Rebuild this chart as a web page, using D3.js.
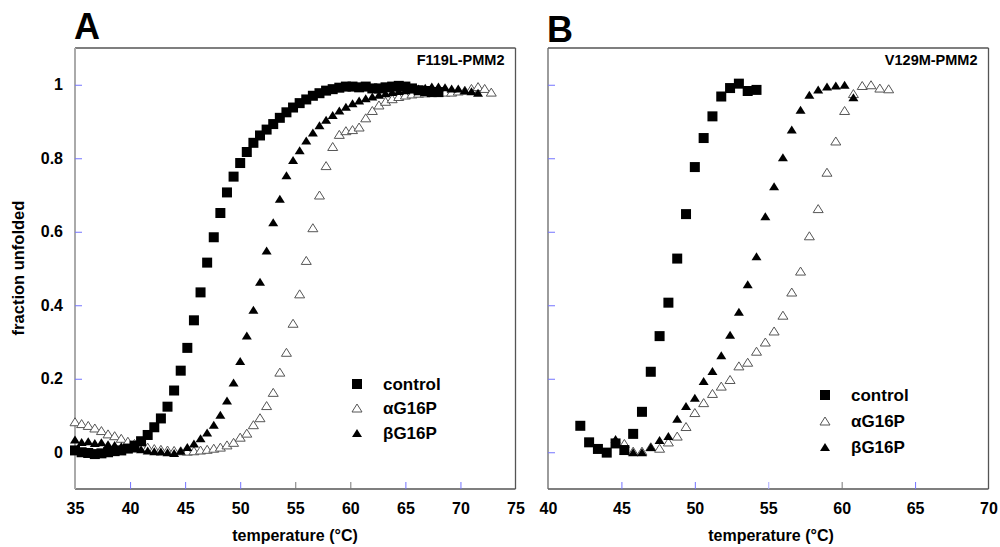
<!DOCTYPE html>
<html><head><meta charset="utf-8">
<script src="https://cdn.jsdelivr.net/npm/d3@7"></script>
<style>
body{margin:0;background:#fff}
svg{display:block}
text{font-family:"Liberation Sans",Arial,sans-serif;font-weight:bold;fill:#000}
</style>
</head><body>
<svg id="chart" width="1000" height="547"></svg>
<script>
// ---------- DATA ----------
const tempsA = [35.0,35.6,36.2,36.8,37.4,38.0,38.6,39.2,39.8,40.4,41.0,41.6,42.2,42.8,43.4,44.0,44.6,45.2,45.8,46.4,
  47.0,47.6,48.2,48.8,49.4,50.0,50.6,51.2,51.8,52.4,53.0,53.6,54.2,54.8,55.4,56.0,56.6,57.2,57.8,58.4,
  59.0,59.6,60.2,60.8,61.4,62.0,62.6,63.2,63.8,64.4,65.0,65.6,66.2,66.8,67.4,68.0,68.6,69.2,69.8,70.4,
  71.0,71.6,72.2,72.8];
const controlA = [0.005,0.0,-0.002,-0.005,-0.003,0.0,0.003,0.005,0.01,0.018,0.030,0.047,0.068,0.092,0.124,0.168,0.222,0.284,0.359,0.435,
  0.516,0.585,0.651,0.707,0.750,0.787,0.817,0.842,0.862,0.878,0.893,0.910,0.925,0.938,0.950,0.960,0.970,0.977,0.984,0.988,
  0.992,0.995,0.995,0.993,0.995,0.990,0.990,0.993,0.995,0.997,0.995,0.990,0.985,0.983,0.980,0.980,null,null,null,null,
  null,null,null,null];
const alphaA = [0.083,0.078,0.073,0.066,0.059,0.050,0.045,0.038,0.030,0.024,0.018,0.014,0.010,0.008,0.006,0.005,0.004,0.003,0.004,0.006,
  0.008,0.011,0.014,0.020,0.027,0.041,0.052,0.075,0.094,0.127,0.163,0.218,0.272,0.351,0.431,0.522,0.611,0.700,0.780,0.832,
  0.865,0.875,0.878,0.885,0.910,0.930,0.945,0.955,0.962,0.968,0.972,0.975,0.977,0.978,0.980,0.980,0.980,0.980,0.983,0.985,
  0.990,0.995,0.990,0.980];
const betaA = [0.035,0.028,0.030,0.025,0.027,0.022,0.020,0.016,0.012,0.010,0.008,0.005,0.003,0.002,0.0,-0.002,0.004,0.014,0.024,0.038,
  0.054,0.075,0.102,0.141,0.190,0.248,0.318,0.388,0.464,0.549,0.626,0.690,0.754,0.795,0.822,0.848,0.870,0.890,0.905,0.918,
  0.930,0.940,0.950,0.957,0.963,0.968,0.973,0.977,0.980,0.983,0.985,0.988,0.990,0.992,0.995,0.995,0.993,0.990,0.990,0.985,
  0.982,0.978,null,null];

const tempsB = [42.2,42.8,43.4,44.0,44.6,45.2,45.8,46.4,47.0,47.6,48.2,48.8,49.4,50.0,50.6,51.2,51.8,52.4,53.0,53.6,
  54.2,54.8,55.4,56.0,56.6,57.2,57.8,58.4,59.0,59.6,60.2,60.8,61.4,62.0,62.6,63.2];
const controlB = [0.072,0.027,0.009,-0.001,0.024,0.006,0.050,0.110,0.219,0.316,0.407,0.527,0.648,0.776,0.855,0.914,0.968,0.991,1.003,0.983,
  0.986,null,null,null,null,null,null,null,null,null,null,null,null,null,null,null];
const alphaB = [null,null,null,null,null,0.024,0.003,0.003,0.015,0.011,0.028,0.044,0.070,0.108,0.135,0.160,0.180,0.198,0.235,0.245,
  0.275,0.300,0.330,0.373,0.436,0.493,0.589,0.663,0.762,0.847,0.930,0.976,0.998,1.000,0.991,0.989];
const betaB = [null,null,null,null,0.036,0.005,0.0,0.0,0.014,0.033,0.044,0.091,0.126,0.148,0.194,0.221,0.264,0.320,0.382,0.457,
  0.533,0.642,0.724,0.803,0.878,0.932,0.973,0.987,0.995,0.998,1.000,0.966,null,null,null,null];

const xTicksA = [35,40,45,50,55,60,65,70,75];
const xTicksB = [40,45,50,55,60,65,70];
const yTicks = [0,0.2,0.4,0.6,0.8,1];
const seriesNames = ["control","\u03b1G16P","\u03b2G16P"];
const panelTitles = ["F119L-PMM2","V129M-PMM2"];
const panelLetters = ["A","B"];
const xLabel = "temperature (\u00b0C)";
const yLabel = "fraction unfolded";

// ---------- DRAW ----------
const svg = d3.select("#chart");
const BLUE = "#7474ff", GREY = "#777";

const panels = [
  {x0:75, x1:515.5, dom:[35,75], ticks:xTicksA, temps:tempsA, c:controlA, a:alphaA, b:betaA,
   tickCol:{40:BLUE,45:BLUE,50:BLUE,55:GREY,60:GREY,65:BLUE,70:BLUE}, yLabels:true, leftCol:"#aaa", leftW:2,
   title:panelTitles[0], letter:panelLetters[0], letterY:38.5, legX:357, legY:[384,408,433], labX:295},
  {x0:548, x1:988.5, dom:[40,70], ticks:xTicksB, temps:tempsB, c:controlB, a:alphaB, b:betaB,
   tickCol:{45:BLUE,50:BLUE,55:"#a8a8ff",60:GREY,65:BLUE}, yLabels:false, leftCol:"#666", leftW:1.3,
   title:panelTitles[1], letter:panelLetters[1], letterY:41.5, legX:825, legY:[395,421,447], labX:771}
];
const yTop = 48, yBot = 489;

const triPath = "M0,-4L5,4L-5,4Z";

panels.forEach(p => {
  const x = d3.scaleLinear().domain(p.dom).range([p.x0, p.x1]);
  const y = d3.scaleLinear().domain([-0.1, 1.1]).range([yBot, yTop]);
  const g = svg.append("g");

  // frame
  g.append("line").attr("x1",p.x0).attr("x2",p.x1).attr("y1",yTop).attr("y2",yTop).attr("stroke","#555").attr("stroke-width",1.3);
  g.append("line").attr("x1",p.x1).attr("x2",p.x1).attr("y1",yTop).attr("y2",yBot).attr("stroke","#555").attr("stroke-width",1.3);
  g.append("line").attr("x1",p.x0).attr("x2",p.x1).attr("y1",yBot).attr("y2",yBot).attr("stroke","#555").attr("stroke-width",1.3);
  g.append("line").attr("x1",p.x0).attr("x2",p.x0).attr("y1",yTop).attr("y2",yBot).attr("stroke",p.leftCol).attr("stroke-width",p.leftW);

  // x axis
  const xa = g.append("g").attr("transform",`translate(0,${yBot})`)
    .call(d3.axisBottom(x).tickValues(p.ticks).tickSizeInner(-7).tickSizeOuter(0).tickPadding(14).tickFormat(d3.format("d")));
  xa.select(".domain").remove();
  xa.selectAll(".tick line").attr("stroke", d => p.tickCol[d] || "none").attr("stroke-width",1);
  xa.selectAll(".tick text").attr("font-size",16).attr("font-family","Liberation Sans, Arial, sans-serif").attr("font-weight","bold");

  // y axis
  const ya = g.append("g").attr("transform",`translate(${p.x0},0)`)
    .call(d3.axisLeft(y).tickValues(yTicks).tickSizeInner(-7).tickSizeOuter(0).tickPadding(12)
      .tickFormat(d => d === 0 ? "0" : d === 1 ? "1" : d3.format(".1f")(d)));
  ya.select(".domain").remove();
  ya.selectAll(".tick line").attr("stroke",BLUE).attr("stroke-width",1);
  ya.selectAll(".tick text").attr("font-size",16).attr("font-family","Liberation Sans, Arial, sans-serif").attr("font-weight","bold");
  if (!p.yLabels) ya.selectAll(".tick text").remove();

  // data
  const pts = (vals) => p.temps.map((t,i)=>({t, v:vals[i]})).filter(d => d.v !== null);
  g.append("g").selectAll("path").data(pts(p.a)).join("path")
    .attr("d",triPath).attr("transform",d=>`translate(${x(d.t)},${y(d.v)})`)
    .attr("fill","#fff").attr("stroke","#555").attr("stroke-width",1);
  g.append("g").selectAll("rect").data(pts(p.c)).join("rect")
    .attr("x",d=>x(d.t)-5).attr("y",d=>y(d.v)-5).attr("width",10).attr("height",10).attr("fill","#000");
  g.append("g").selectAll("path").data(pts(p.b)).join("path")
    .attr("d",triPath).attr("transform",d=>`translate(${x(d.t)},${y(d.v)})`).attr("fill","#000");

  // legend
  const lg = g.append("g");
  lg.append("rect").attr("x",p.legX-5).attr("y",p.legY[0]-5).attr("width",10).attr("height",10).attr("fill","#000");
  lg.append("path").attr("d",triPath).attr("transform",`translate(${p.legX},${p.legY[1]})`).attr("fill","#fff").attr("stroke","#555");
  lg.append("path").attr("d",triPath).attr("transform",`translate(${p.legX},${p.legY[2]})`).attr("fill","#000");
  seriesNames.forEach((n,i) => {
    lg.append("text").attr("x",p.legX+26).attr("y",p.legY[i]+6).attr("font-size",17).text(n);
  });

  // title, letter, x label
  g.append("text").attr("x",p.x1-11).attr("y",65).attr("text-anchor","end").attr("font-size",14.5).text(p.title);
  g.append("text").attr("x",p.x0-1).attr("y",p.letterY).attr("font-size",36).text(p.letter);
  g.append("text").attr("x",p.labX).attr("y",541).attr("text-anchor","middle").attr("font-size",16).text(xLabel);
});

svg.append("text").attr("transform","translate(24,268) rotate(-90)").attr("text-anchor","middle")
  .attr("font-size",16.5).text(yLabel);
</script>
</body></html>
